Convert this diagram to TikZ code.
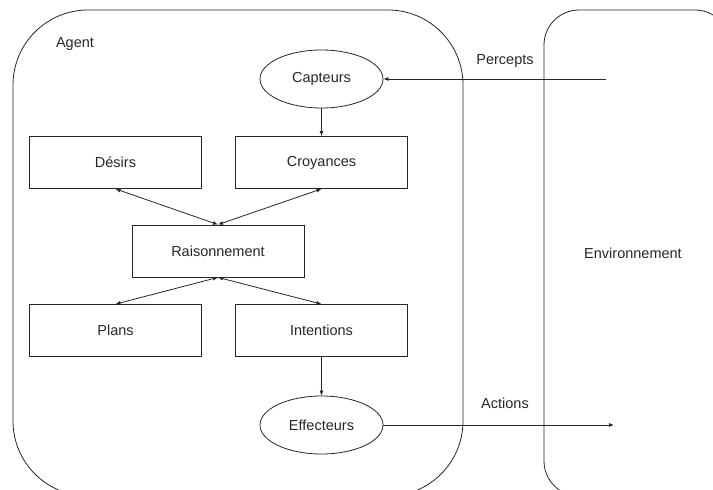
\documentclass[tikz,border=0pt]{standalone}
\usepackage{fontspec}
\setmainfont{Liberation Sans}
\usetikzlibrary{arrows.meta,shapes.geometric}

\begin{document}
\begin{tikzpicture}[x=1pt, y=-1pt, line width=0.8pt, color=black!85,
    every node/.style={font=\fontsize{14.5}{17}\selectfont},
    bloc/.style={draw, minimum width=172pt, minimum height=52pt, inner sep=0pt},
    capteur/.style={draw, ellipse, minimum width=123pt, minimum height=58pt, inner sep=0pt},
    fleche/.style={-{Latex[length=5pt,width=4pt]}},
    fleches/.style={{Latex[length=5pt,width=4pt]}-{Latex[length=5pt,width=4pt]}}]
    \useasboundingbox (0,0) rectangle (713,490);
    \begin{scope}
        \clip (0,0) rectangle (713,490);
        \draw[rounded corners=75pt] (13,10) rectangle (463,496);
        \draw[rounded corners=35pt] (544,10) rectangle (730,496);
    \end{scope}
    \node (agent) at (75,44) {Agent};
    \node (env) at (633,253) {Environnement};
    \node[capteur] (capteurs) at (321.5,79) {Capteurs};
    \node[bloc] (desirs) at (115.5,162.5) {Désirs};
    \node[bloc] (croyances) at (321.5,162.5) {Croyances};
    \node[bloc] (raison) at (218,251) {Raisonnement};
    \node[bloc] (plans) at (115.5,330.5) {Plans};
    \node[bloc] (intentions) at (321.5,330.5) {Intentions};
    \node[capteur] (effecteurs) at (321.5,425) {Effecteurs};
    \coordinate (source) at (606,79);
    \coordinate (cible) at (614,425);
    \node (percepts) at (505,61) {Percepts};
    \node (actions) at (505,403) {Actions};
    \draw[fleche] (source) -- (capteurs);
    \draw[fleche] (capteurs) -- (croyances);
    \draw[fleches] (desirs.south) -- (raison.north);
    \draw[fleches] (croyances.south) -- (raison.north);
    \draw[fleches] (plans.north) -- (raison.south);
    \draw[fleches] (intentions.north) -- (raison.south);
    \draw[fleche] (intentions) -- (effecteurs);
    \draw[fleche] (effecteurs) -- (cible);
\end{tikzpicture}
\end{document}
